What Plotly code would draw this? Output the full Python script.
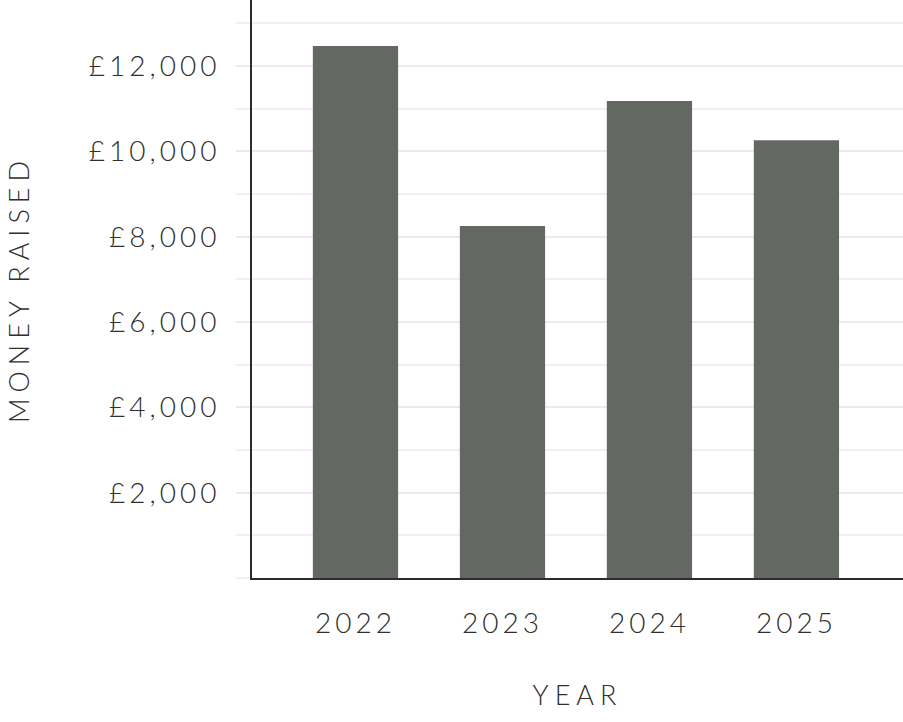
import plotly.graph_objects as go

years = ["2022", "2023", "2024", "2025"]
money_raised = [12470, 8250, 11180, 10260]
y_tick_values = [2000, 4000, 6000, 8000, 10000, 12000]
y_tick_labels = ["£2,000", "£4,000", "£6,000", "£8,000", "£10,000", "£12,000"]

FONT = "Lato"
TEXT = "#2f302e"

fig = go.Figure(
    go.Bar(
        x=years,
        y=money_raised,
        marker=dict(color="#646862", line=dict(width=0)),
        width=0.58,
        hoverinfo="skip",
    )
)

fig.update_layout(
    width=903,
    height=722,
    margin=dict(l=252, r=0, t=0, b=144),
    paper_bgcolor="white",
    plot_bgcolor="white",
    showlegend=False,
    font=dict(family=FONT, size=28, color=TEXT, weight=300),
)

fig.update_xaxes(
    type="category",
    range=[-0.704, 3.725],
    showline=True,
    linecolor="#2b2d2a",
    linewidth=2,
    showgrid=False,
    ticks="",
    ticklabelstandoff=19,
    tickfont=dict(family=FONT, size=28, color=TEXT, weight=300),
    title=dict(text="YEAR", standoff=49,
               font=dict(family=FONT, size=27, color=TEXT, weight=300)),
)

fig.update_yaxes(
    range=[0, 13550],
    tickvals=y_tick_values,
    ticktext=y_tick_labels,
    showline=True,
    linecolor="#2b2d2a",
    linewidth=2,
    showgrid=True,
    gridcolor="#ebebeb",
    gridwidth=2,
    ticks="outside",
    ticklen=14,
    tickwidth=2,
    tickcolor="#ebebeb",
    ticklabelstandoff=10,
    zeroline=False,
    minor=dict(dtick=1000, tick0=0, showgrid=True, gridcolor="#f0f0f0", gridwidth=2,
               ticks="outside", ticklen=14, tickwidth=2, tickcolor="#f0f0f0"),
    tickfont=dict(family=FONT, size=28, color=TEXT, weight=300),
    title=dict(text="MONEY RAISED", standoff=79,
               font=dict(family=FONT, size=27, color=TEXT, weight=300)),
)

page_css = (
    "var s=document.createElement('style');"
    "s.textContent='html,body{margin:0;padding:0;overflow:hidden}"
    ".xtick text,.ytick text{letter-spacing:4px}"
    ".g-xtitle text,.g-ytitle text{letter-spacing:6px}';"
    "document.head.appendChild(s);"
)

fig.write_html("out.html", post_script=page_css,
               config={"displayModeBar": False, "staticPlot": True})
